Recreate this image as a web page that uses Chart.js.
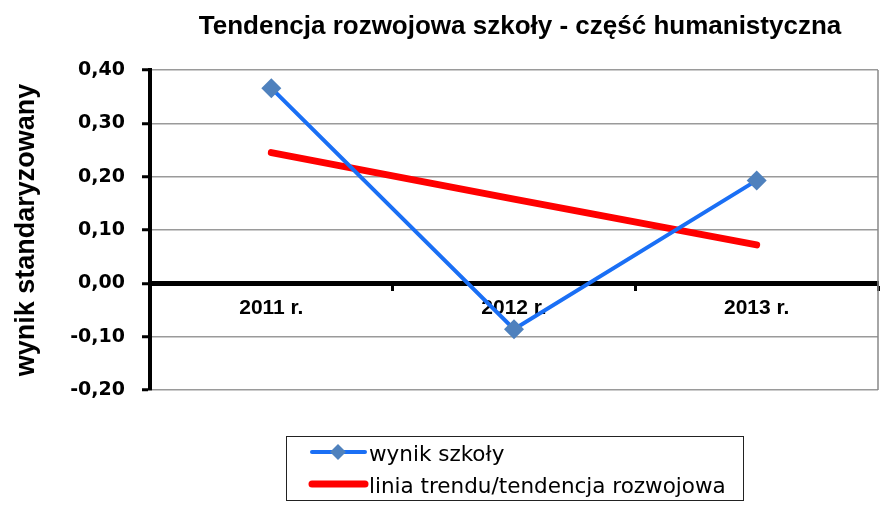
<!DOCTYPE html>
<html>
<head>
<meta charset="utf-8">
<script src="https://cdn.jsdelivr.net/npm/chart.js"></script>
<style>
    html, body { margin: 0; padding: 0; background: #fff; }
    .chart-container { position: relative; width: 888px; height: 508px; }
</style>
</head>
<body>
<div class="chart-container">
    <canvas id="trendChart"></canvas>
</div>
<script>
    var categories = ['2011 r.', '2012 r.', '2013 r.'];
    var schoolScores = [0.366, -0.086, 0.193];
    var trendValues = [0.245, 0.158, 0.072];
    var seriesNames = ['wynik szkoły', 'linia trendu/tendencja rozwojowa'];
    var chartTitle = 'Tendencja rozwojowa szkoły - część humanistyczna';
    var yTitle = 'wynik standaryzowany';

    var FONT = "'Liberation Sans', Arial, sans-serif";
    var WIDE = "'DejaVu Sans', sans-serif"; // reference text is stretched sideways

    // title + frame + legend drawn by hand, chart.js legend is horizontal only
    var decorPlugin = {
        id: 'decor',
        afterDraw: function (chart) {
            var ctx = chart.ctx, a = chart.chartArea;
            ctx.save();
            ctx.strokeStyle = '#888';
            ctx.lineWidth = 1.5;
            ctx.beginPath();
            ctx.moveTo(a.right, a.top);
            ctx.lineTo(a.right, a.bottom);
            ctx.stroke();

            ctx.fillStyle = '#000';
            ctx.font = 'bold 26px ' + FONT;
            ctx.textAlign = 'center';
            ctx.textBaseline = 'alphabetic';
            ctx.fillText(chartTitle, (a.left + a.right) / 2 + 6, 34);

            // legend
            var lx = 286, ly = 436, lw = 457, lh = 64;
            ctx.strokeStyle = '#222';
            ctx.lineWidth = 1;
            ctx.strokeRect(lx + 0.5, ly + 0.5, lw, lh);
            ctx.textAlign = 'left';
            ctx.font = '21.5px ' + WIDE;
            chart.data.datasets.forEach(function (ds, i) {
                var y = ly + 16 + i * 32;
                ctx.strokeStyle = ds.borderColor;
                ctx.lineWidth = ds.borderWidth;
                ctx.lineCap = 'round';
                ctx.beginPath();
                ctx.moveTo(312, y);
                ctx.lineTo(365, y);
                ctx.stroke();
                if (ds.pointRadius > 0) {
                    ctx.fillStyle = ds.pointBackgroundColor;
                    ctx.beginPath();
                    ctx.moveTo(338, y - 8);
                    ctx.lineTo(346, y);
                    ctx.lineTo(338, y + 8);
                    ctx.lineTo(330, y);
                    ctx.closePath();
                    ctx.fill();
                }
                ctx.fillStyle = '#000';
                ctx.fillText(ds.label, 369, y + 9);
            });
            ctx.restore();
        }
    };

    var ctx = document.getElementById('trendChart').getContext('2d');
    var chart = new Chart(ctx, {
        type: 'line',
        data: {
            labels: categories,
            datasets: [{
                label: seriesNames[0],
                data: schoolScores,
                borderColor: '#1a6ff5',
                borderWidth: 4,
                pointStyle: 'rectRot',
                pointRadius: 10,
                pointBackgroundColor: '#4f81bd',
                pointBorderColor: '#4f81bd',
                pointBorderWidth: 0,
                order: 1
            }, {
                label: seriesNames[1],
                data: trendValues,
                borderColor: '#ff0000',
                borderWidth: 7,
                pointRadius: 0,
                borderCapStyle: 'round',
                order: 2
            }]
        },
        options: {
            responsive: true,
            maintainAspectRatio: false,
            animation: false,
            layout: { padding: { top: 70, right: 2, bottom: 118, left: 0 } },
            plugins: {
                legend: { display: false },
                title: { display: false },
                tooltip: { enabled: false }
            },
            scales: {
                x: {
                    type: 'category',
                    position: { y: 0 },
                    offset: true,
                    grid: {
                        display: true,
                        offset: true,
                        drawOnChartArea: false,
                        drawTicks: true,
                        tickLength: 5,
                        tickWidth: 3,
                        tickColor: '#000'
                    },
                    border: { display: true, color: '#000', width: 5 },
                    ticks: {
                        color: '#000',
                        padding: 7,
                        maxRotation: 0,
                        font: { family: FONT, size: 21, weight: 'bold' }
                    },
                    afterFit: function (scale) { scale.height = 40; }
                },
                y: {
                    min: -0.2,
                    max: 0.4,
                    ticks: {
                        stepSize: 0.1,
                        color: '#000',
                        padding: 17,
                        font: { family: WIDE, size: 19, weight: 'bold' },
                        callback: function (v) { return v.toFixed(2).replace('.', ','); }
                    },
                    grid: {
                        color: '#9a9a9a',
                        lineWidth: 1.5,
                        tickLength: 8,
                        tickWidth: 3,
                        tickColor: '#000'
                    },
                    border: { display: true, color: '#000', width: 4 },
                    title: {
                        display: true,
                        text: yTitle,
                        color: '#000',
                        padding: { top: 10, bottom: 0 },
                        font: { family: FONT, size: 27, weight: 'bold' }
                    },
                    afterFit: function (scale) { scale.width = 150; }
                }
            }
        },
        plugins: [decorPlugin]
    });
</script>
</body>
</html>
